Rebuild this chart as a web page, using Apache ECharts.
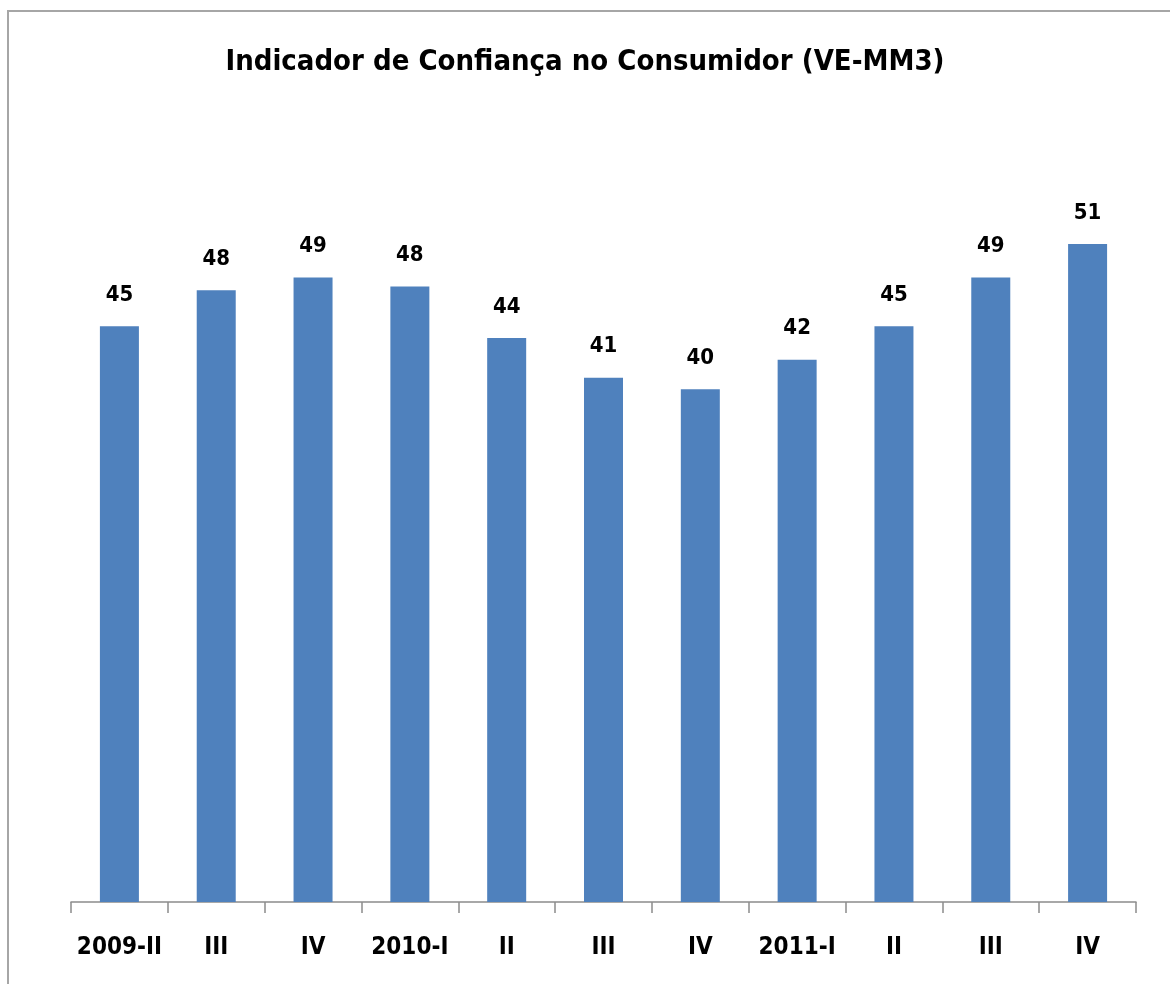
<!DOCTYPE html>
<html>
<head>
<meta charset="utf-8">
<script src="https://cdn.jsdelivr.net/npm/echarts@6/dist/echarts.min.js"></script>
<style>
  html, body { margin: 0; padding: 0; background: #fff; }
  #chart { width: 1170px; height: 984px; }
</style>
</head>
<body>
<div id="chart"></div>
<script>
// dados
var titulo = 'Indicador de Confiança no Consumidor (VE-MM3)';
var trimestres = ['2009-II', 'III', 'IV', '2010-I', 'II', 'III', 'IV', '2011-I', 'II', 'III', 'IV'];
var valores = [44.8, 47.6, 48.6, 47.9, 43.9, 40.8, 39.9, 42.2, 44.8, 48.6, 51.2];

var fonte = '"Liberation Sans Narrow", "DejaVu Sans Condensed", "Liberation Sans", sans-serif';

var chart = echarts.init(document.getElementById('chart'));

var option = {
  animation: false,
  backgroundColor: '#fff',
  title: {
    text: titulo,
    left: 'center',
    top: 43,
    textStyle: {
      fontFamily: fonte,
      fontWeight: 'bold',
      fontSize: 29,
      color: '#000'
    }
  },
  // moldura da área do gráfico (só topo e esquerda aparecem)
  graphic: [{
    type: 'rect',
    shape: { x: 8, y: 11, width: 1300, height: 1100 },
    style: { fill: 'none', stroke: '#a6a6a6', lineWidth: 2 },
    silent: true
  }],
  grid: {
    left: 71,
    right: 34,
    top: 131,
    bottom: 82
  },
  xAxis: {
    type: 'category',
    data: trimestres,
    boundaryGap: true,
    axisLine: { show: true, lineStyle: { color: '#8c8c8c', width: 1.5 } },
    axisTick: {
      show: true,
      interval: 0,
      alignWithLabel: false,
      length: 11,
      lineStyle: { color: '#8c8c8c', width: 1.5 }
    },
    axisLabel: {
      interval: 0,
      margin: 34,
      fontFamily: fonte,
      fontWeight: 'bold',
      fontSize: 24,
      color: '#000'
    }
  },
  yAxis: {
    type: 'value',
    min: 0,
    max: 60,
    show: false,
    splitLine: { show: false }
  },
  series: [{
    type: 'bar',
    data: valores,
    barWidth: 39,
    itemStyle: { color: '#4F81BD' },
    label: {
      show: true,
      position: 'top',
      distance: 20,
      fontFamily: fonte,
      fontWeight: 'bold',
      fontSize: 22,
      color: '#000',
      formatter: function (p) {
        return Math.round(p.value);
      }
    }
  }]
};

chart.setOption(option);
</script>
</body>
</html>
